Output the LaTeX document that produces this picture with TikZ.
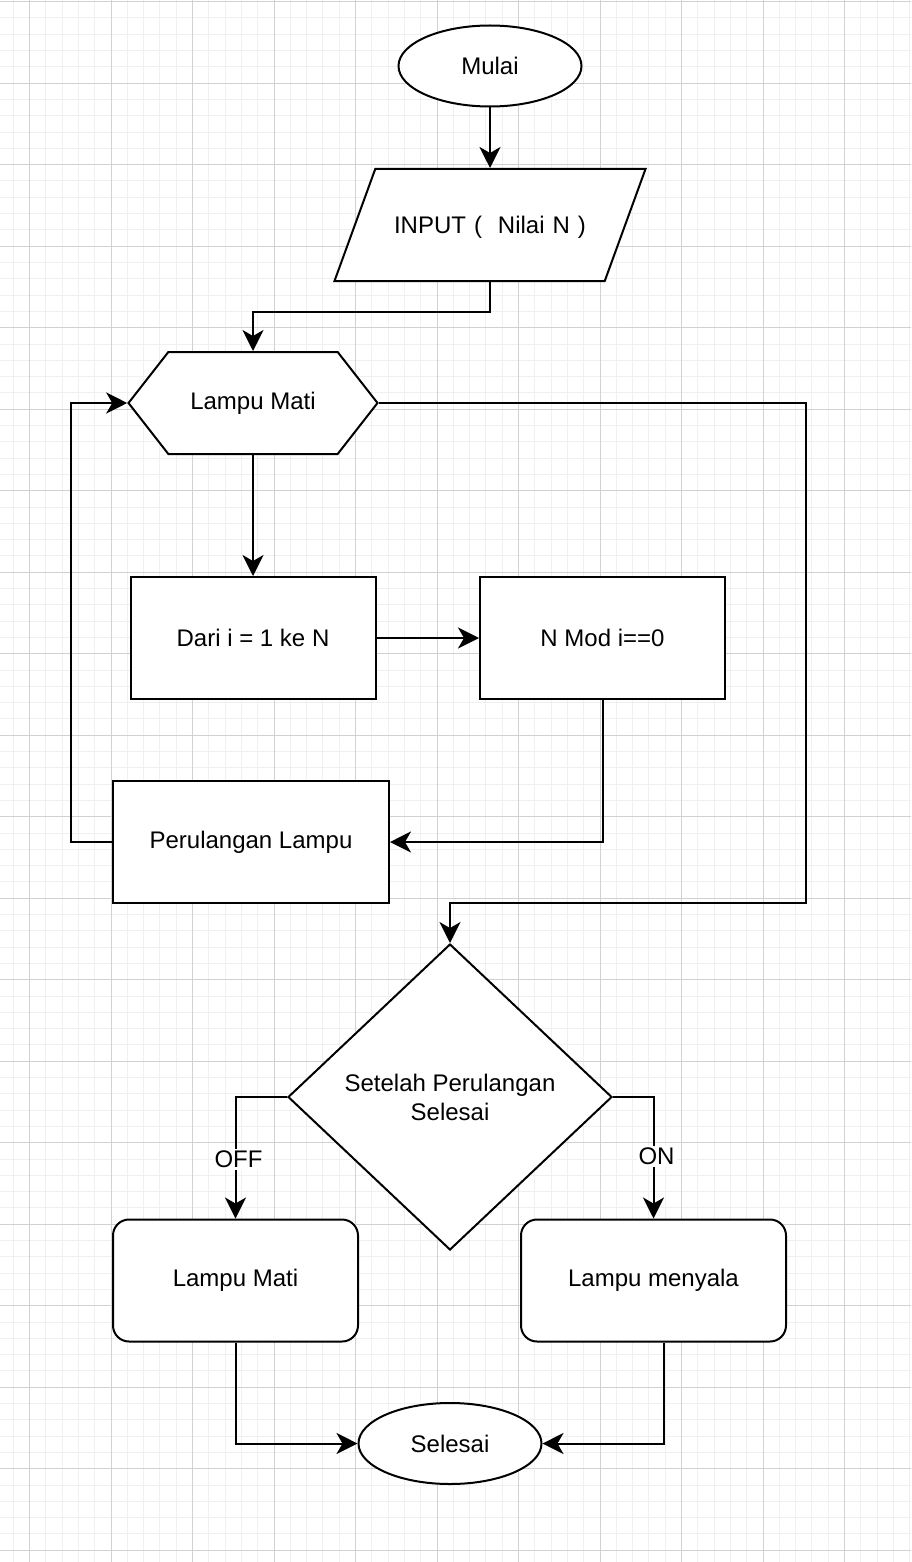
\documentclass[tikz,border=0pt]{standalone}
\usepackage{fontspec}
\setmainfont{Liberation Sans}
\usetikzlibrary{shapes.geometric,shapes.symbols,arrows.meta}
\begin{document}
\begin{tikzpicture}[x=1pt,y=-1pt,
  every node/.style={font=\fontsize{24}{29}\selectfont,align=center},
  box/.style={draw,line width=2pt,fill=white,minimum width=245pt,minimum height=122pt,inner sep=0pt},
  rbox/.style={box,rounded corners=16pt},
  term/.style={draw,line width=2pt,fill=white,ellipse,minimum width=183pt,minimum height=81pt,inner sep=0pt},
  arr/.style={line width=2pt,-{Stealth[length=21pt,width=21pt,inset=6pt]}},
  lbl/.style={fill=white,inner sep=2pt}]
\useasboundingbox (0,0) rectangle (911,1562);
\fill[white] (0,0) rectangle (911,1562);
\foreach \i in {-1,...,54}
  \draw[line width=1pt,black!6] ({29.5+16.3*\i},0) -- ({29.5+16.3*\i},1562);
\foreach \i in {0,...,95}
  \draw[line width=1pt,black!6] (0,{1.7+16.3*\i}) -- (911,{1.7+16.3*\i});
\foreach \i in {0,...,10}
  \draw[line width=1pt,black!18] ({29.5+81.5*\i},0) -- ({29.5+81.5*\i},1562);
\foreach \i in {0,...,19}
  \draw[line width=1pt,black!18] (0,{1.7+81.5*\i}) -- (911,{1.7+81.5*\i});

\node[term] (mulai) at (490,66) {Mulai};
\node[trapezium,trapezium left angle=70,trapezium right angle=110,draw,line width=2pt,fill=white,
  text width=229.5pt,text height=64.6pt,text depth=47.4pt,inner sep=0pt] (input) at (490,225) {INPUT (\ \ Nilai N )};
\node[signal,signal to=east and west,signal pointer angle=104,draw,line width=2pt,fill=white,
  minimum width=249pt,minimum height=102pt,inner sep=0pt] (lampu) at (253,403) {Lampu Mati};
\node[box] (dari) at (253,638) {Dari i = 1 ke N};
\node[box] (nmod) at (602.5,638) {N Mod i==0};
\node[box,minimum width=276pt] (ulang) at (251,842) {Perulangan Lampu};
\node[diamond,aspect=1.06,draw,line width=2pt,fill=white,minimum width=324pt,minimum height=306pt,inner sep=0pt] (cek) at (450,1097) {Setelah Perulangan\\Selesai};
\node[rbox] (mati) at (235.5,1280.5) {Lampu Mati};
\node[rbox,minimum width=265pt] (nyala) at (653.5,1280.5) {Lampu menyala};
\node[term] (selesai) at (450,1443.5) {Selesai};
\coordinate (belok) at (806,903);

\draw[arr] (mulai) -- (input);
\draw[arr] (input.south) -- ++(0,30) -| (lampu.north);
\draw[arr] (lampu.south) -- (dari.north);
\draw[arr] (dari) -- (nmod);
\draw[arr] (nmod.south) |- (ulang.east);
\draw[arr] (ulang.west) -- ++(-41,0) |- (lampu.west);
\draw[arr] (lampu.east) -| (belok) -| (cek.north);
\draw[arr] (cek.west) -| node[lbl,pos=0.756,xshift=3pt] {OFF} (mati.north);
\draw[arr] (cek.east) -| node[lbl,pos=0.745,xshift=3pt] {ON} (nyala.north);
\draw[arr] (mati.south) |- (selesai.west);
\draw[arr] ([xshift=10pt]nyala.south) |- (selesai.east);
\end{tikzpicture}
\end{document}
